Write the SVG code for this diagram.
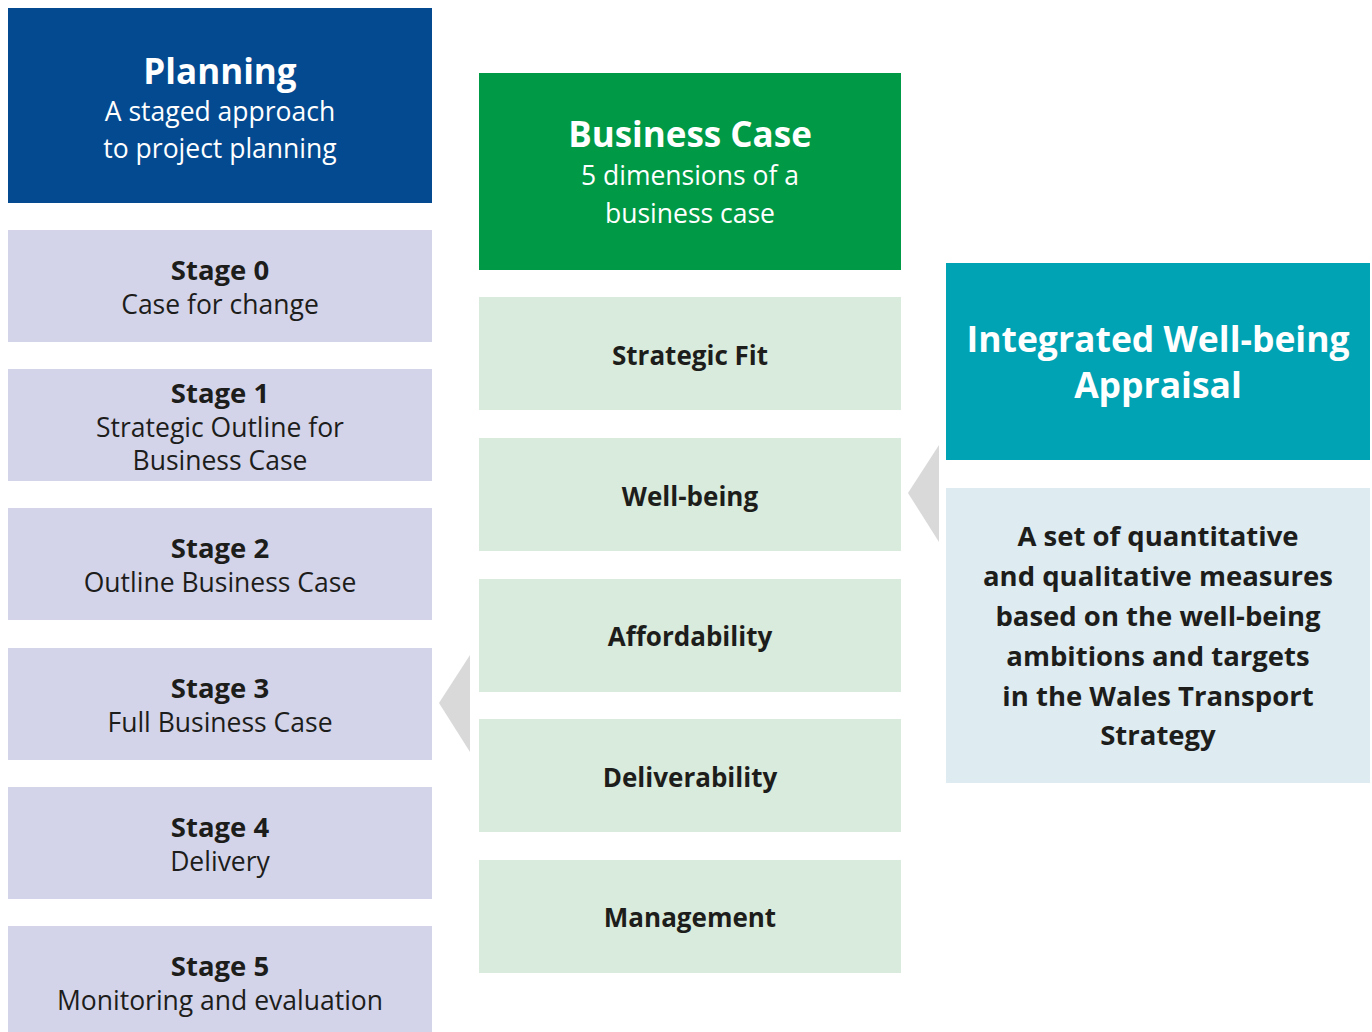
<svg xmlns="http://www.w3.org/2000/svg" width="1372" height="1032" viewBox="0 0 1372 1032">
  <style>
    text { font-family: "Open Sans", "Noto Sans", "Liberation Sans", sans-serif; text-anchor: middle; }
    .head { fill: #ffffff; font-weight: 700; }
    .sub { fill: #ffffff; font-weight: 400; font-size: 26.5px; }
    .stage { fill: #d3d4ea; }
    .dim { fill: #d9ebdc; }
    .st-title { fill: #1d1d1b; font-weight: 700; font-size: 27.5px; }
    .st-text { fill: #1d1d1b; font-weight: 400; font-size: 26.5px; }
    .dim-text { fill: #1d1d1b; font-weight: 700; font-size: 26px; }
    .body { fill: #1d1d1b; font-weight: 700; font-size: 27.5px; }
    .pointer { fill: #d9d9d9; }
  </style>
  <rect width="1372" height="1032" fill="#ffffff"/>

  <!-- Planning column -->
  <g id="planning">
    <rect x="8" y="8" width="424" height="195" fill="#044a91"/>
    <text class="head" x="220" y="84" font-size="35">Planning</text>
    <text class="sub" x="220" y="121">A staged approach</text>
    <text class="sub" x="220" y="158">to project planning</text>
  </g>
  <g id="stage0">
    <rect class="stage" x="8" y="230" width="424" height="112"/>
    <text class="st-title" x="220" y="280">Stage 0</text>
    <text class="st-text" x="220" y="314">Case for change</text>
  </g>
  <g id="stage1">
    <rect class="stage" x="8" y="369" width="424" height="112"/>
    <text class="st-title" x="220" y="403">Stage 1</text>
    <text class="st-text" x="220" y="436.5">Strategic Outline for</text>
    <text class="st-text" x="220" y="470">Business Case</text>
  </g>
  <g id="stage2">
    <rect class="stage" x="8" y="508" width="424" height="112"/>
    <text class="st-title" x="220" y="558">Stage 2</text>
    <text class="st-text" x="220" y="592">Outline Business Case</text>
  </g>
  <g id="stage3">
    <rect class="stage" x="8" y="648" width="424" height="112"/>
    <text class="st-title" x="220" y="698">Stage 3</text>
    <text class="st-text" x="220" y="732">Full Business Case</text>
  </g>
  <g id="stage4">
    <rect class="stage" x="8" y="787" width="424" height="112"/>
    <text class="st-title" x="220" y="837">Stage 4</text>
    <text class="st-text" x="220" y="871">Delivery</text>
  </g>
  <g id="stage5">
    <rect class="stage" x="8" y="926" width="424" height="112"/>
    <text class="st-title" x="220" y="976">Stage 5</text>
    <text class="st-text" x="220" y="1010">Monitoring and evaluation</text>
  </g>

  <!-- Business case column -->
  <g id="business-case">
    <rect x="479" y="73" width="422" height="197" fill="#009a46"/>
    <text class="head" x="690" y="147" font-size="35">Business Case</text>
    <text class="sub" x="690" y="185">5 dimensions of a</text>
    <text class="sub" x="690" y="223">business case</text>
  </g>
  <g id="strategic-fit">
    <rect class="dim" x="479" y="297" width="422" height="113"/>
    <text class="dim-text" x="690" y="365">Strategic Fit</text>
  </g>
  <g id="well-being">
    <rect class="dim" x="479" y="438" width="422" height="113"/>
    <text class="dim-text" x="690" y="506">Well-being</text>
  </g>
  <g id="affordability">
    <rect class="dim" x="479" y="579" width="422" height="113"/>
    <text class="dim-text" x="690" y="646">Affordability</text>
  </g>
  <g id="deliverability">
    <rect class="dim" x="479" y="719" width="422" height="113"/>
    <text class="dim-text" x="690" y="787">Deliverability</text>
  </g>
  <g id="management">
    <rect class="dim" x="479" y="860" width="422" height="113"/>
    <text class="dim-text" x="690" y="927">Management</text>
  </g>

  <!-- Appraisal column -->
  <g id="iwba">
    <rect x="946" y="263" width="424" height="197" fill="#00a3b4"/>
    <text class="head" x="1158" y="352" font-size="35.5">Integrated Well-being</text>
    <text class="head" x="1158" y="398" font-size="35.5">Appraisal</text>
  </g>
  <g id="iwba-measures">
    <rect x="946" y="488" width="424" height="295" fill="#deebf1"/>
    <text class="body" x="1158" y="546">A set of quantitative</text>
    <text class="body" x="1158" y="586">and qualitative measures</text>
    <text class="body" x="1158" y="626">based on the well-being</text>
    <text class="body" x="1158" y="666">ambitions and targets</text>
    <text class="body" x="1158" y="706">in the Wales Transport</text>
    <text class="body" x="1158" y="745">Strategy</text>
  </g>

  <!-- Pointers between columns -->
  <g id="connectors">
    <polygon class="pointer" points="470,655 439,703 470,752"/>
    <polygon class="pointer" points="939,445 908,493 939,542"/>
  </g>
</svg>
